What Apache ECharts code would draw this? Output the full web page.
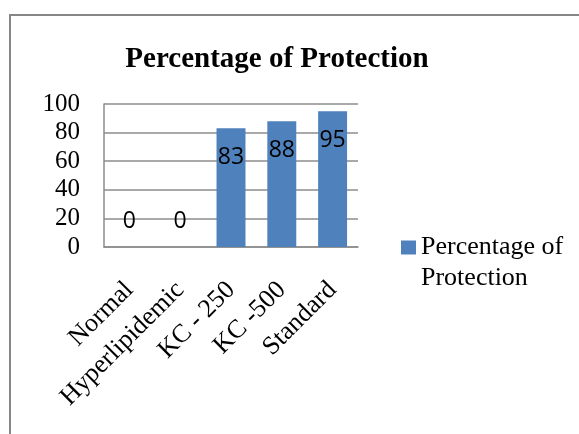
<!DOCTYPE html>
<html>
<head>
<meta charset="utf-8">
<script src="https://cdn.jsdelivr.net/npm/echarts@6/dist/echarts.min.js"></script>
<style>
  html, body { margin: 0; padding: 0; background: #ffffff; }
  #chart { width: 579px; height: 434px; }
</style>
</head>
<body>
<div id="chart"></div>
<script>
// Protection percentage by treatment group
const categories = ['Normal', 'Hyperlipidemic', 'KC - 250', 'KC -500', 'Standard'];
const protectionValues = [0, 0, 83, 88, 95];
const yTicks = [0, 20, 40, 60, 80, 100];
const seriesName = 'Percentage of Protection';

const serif = '"Liberation Serif", "Times New Roman", serif';
const barColor = '#4F81BD';
const gridColor = '#8C8C8C';

// Zero-height bars get their label above the baseline, others inside near the top
const barData = protectionValues.map(v => ({
  value: v,
  label: v === 0 ? { position: 'top', distance: 14 } : { position: 'insideTop', distance: 18 }
}));

const chart = echarts.init(document.getElementById('chart'), null, { renderer: 'canvas' });
chart.setOption({
  backgroundColor: '#ffffff',
  animation: false,
  graphic: [{
    type: 'rect',
    shape: { x: 10, y: 15, width: 640, height: 500 },
    style: { fill: 'none', stroke: '#878787', lineWidth: 2 },
    silent: true
  }],
  title: {
    text: seriesName,
    left: 272,
    top: 40,
    textAlign: 'center',
    textStyle: { fontFamily: serif, fontWeight: 'bold', fontSize: 29, color: '#000' }
  },
  grid: { left: 104, top: 104, width: 254, height: 143, containLabel: false },
  legend: {
    left: 401,
    top: 201,
    padding: 0,
    itemWidth: 15,
    itemHeight: 14,
    icon: 'rect',
    // leading empty line keeps the swatch level with the first text line
    formatter: () => '\nPercentage of\nProtection',
    textStyle: { fontFamily: serif, fontSize: 26, color: '#000', lineHeight: 31 },
    data: [seriesName]
  },
  xAxis: {
    type: 'category',
    data: categories,
    axisLine: { show: true, lineStyle: { color: gridColor, width: 1.5 } },
    axisTick: { show: false },
    axisLabel: {
      rotate: 45, interval: 0, margin: 39,
      fontFamily: serif, fontSize: 26, color: '#000'
    }
  },
  yAxis: {
    type: 'value',
    min: yTicks[0],
    max: yTicks[yTicks.length - 1],
    interval: yTicks[1] - yTicks[0],
    axisLine: { show: true, lineStyle: { color: gridColor, width: 1.5 } },
    axisTick: { show: false },
    splitLine: { lineStyle: { color: gridColor, width: 1.5 } },
    axisLabel: { margin: 24, fontFamily: serif, fontSize: 25, color: '#000' }
  },
  series: [{
    name: seriesName,
    type: 'bar',
    data: barData,
    barWidth: '57%',
    itemStyle: { color: barColor },
    label: {
      show: true,
      fontFamily: '"Open Sans", "Liberation Sans", sans-serif',
      fontSize: 23,
      color: '#000'
    }
  }]
});
</script>
</body>
</html>
